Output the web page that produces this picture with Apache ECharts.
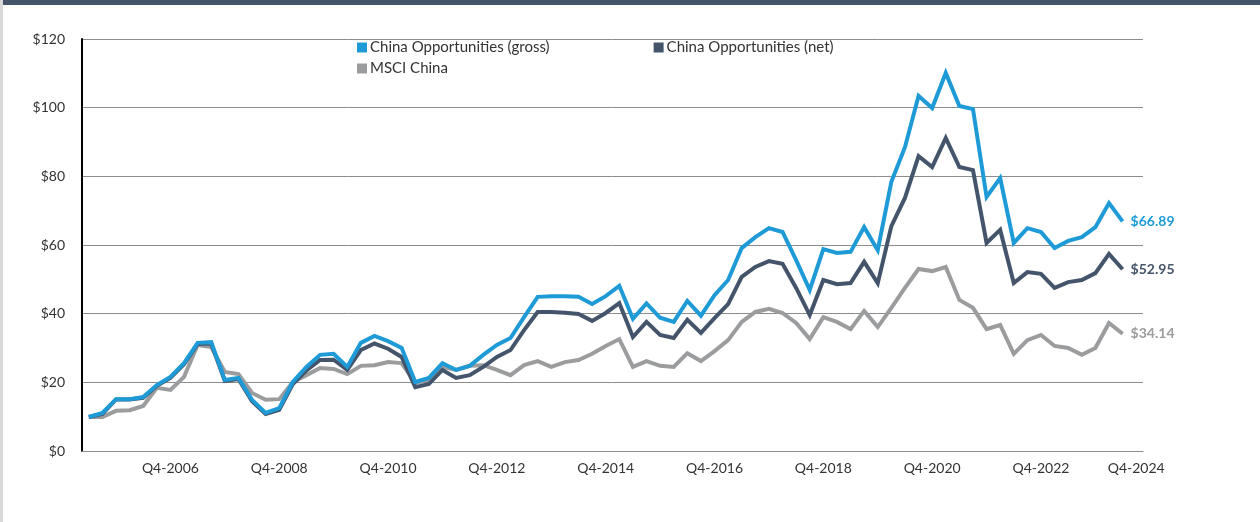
<!DOCTYPE html>
<html>
<head>
<meta charset="utf-8">
<script src="https://cdn.jsdelivr.net/npm/echarts@6/dist/echarts.min.js"></script>
<style>
  html, body { margin: 0; padding: 0; background: #fff; }
  #chart { width: 1260px; height: 522px; }
</style>
</head>
<body>
<div id="chart"></div>
<script>
// quarterly growth of $10
var gross = [9.9, 11.1, 15.1, 15.1, 15.7, 19.2, 21.6, 25.6, 31.5, 31.7,
  20.7, 21.3, 14.9, 11.1, 12.5, 20.1, 24.5, 28.0, 28.3, 24.5,
  31.5, 33.5, 32.0, 30.0, 20.1, 21.3, 25.6, 23.6, 24.8, 28.0,
  30.9, 32.9, 39.0, 44.9, 45.1, 45.1, 44.9, 42.8, 45.1, 48.1,
  38.5, 43.0, 38.8, 37.6, 43.7, 39.4, 45.4, 49.8, 59.1, 62.3,
  64.9, 63.8, 55.6, 46.9, 58.8, 57.7, 58.0, 65.2, 58.5, 78.4,
  88.5, 103.4, 99.9, 110.1, 100.5, 99.6, 74.0, 79.5, 60.6, 64.9,
  63.8, 59.1, 61.2, 62.3, 65.2, 72.2, 66.89];

var net = [9.9, 10.8, 15.0, 15.0, 15.5, 19.0, 21.3, 25.3, 31.2, 31.3,
  20.4, 21.0, 14.5, 10.8, 12.0, 19.5, 23.5, 26.5, 26.6, 23.6,
  29.4, 31.3, 29.8, 27.4, 18.6, 19.5, 23.6, 21.3, 22.1, 24.5,
  27.4, 29.4, 35.2, 40.5, 40.5, 40.3, 39.9, 37.9, 40.2, 43.1,
  33.2, 37.6, 33.8, 32.9, 38.2, 34.4, 38.7, 42.8, 50.7, 53.6,
  55.3, 54.5, 47.5, 39.6, 49.8, 48.6, 48.9, 55.1, 48.9, 65.5,
  73.7, 85.9, 82.7, 91.2, 82.7, 81.8, 60.6, 64.4, 48.9, 52.1,
  51.6, 47.5, 49.2, 49.8, 51.8, 57.4, 52.95];

var msci = [9.9, 9.9, 11.7, 11.9, 13.1, 18.4, 17.8, 21.6, 30.9, 30.3,
  23.0, 22.4, 16.9, 14.9, 15.1, 20.1, 22.1, 24.2, 23.9, 22.4,
  24.8, 25.0, 25.9, 25.6, 19.8, 20.7, 24.5, 23.6, 24.8, 25.0,
  23.6, 22.1, 25.0, 26.2, 24.5, 25.9, 26.5, 28.3, 30.6, 32.6,
  24.5, 26.2, 24.8, 24.5, 28.5, 26.2, 29.1, 32.3, 37.6, 40.5,
  41.4, 40.2, 37.3, 32.6, 39.0, 37.6, 35.5, 40.8, 36.1, 41.7,
  47.5, 53.0, 52.4, 53.6, 44.0, 41.7, 35.5, 36.7, 28.3, 32.3,
  33.8, 30.6, 30.0, 28.0, 30.0, 37.3, 34.14];

// category slots on the x axis and the ones that carry a label
var slotCount = 78;
var tickLabels = {
  6: 'Q4-2006', 14: 'Q4-2008', 22: 'Q4-2010', 30: 'Q4-2012', 38: 'Q4-2014',
  46: 'Q4-2016', 54: 'Q4-2018', 62: 'Q4-2020', 70: 'Q4-2022', 77: 'Q4-2024'
};
var yTicks = [0, 20, 40, 60, 80, 100, 120];

var names = ['China Opportunities (gross)', 'China Opportunities (net)', 'MSCI China'];
var colors = ['#1e9bd7', '#44546a', '#9b9c9e'];

var slots = [];
for (var i = 0; i < slotCount; i++) slots.push('s' + i);

var font = 'Lato, "Open Sans", sans-serif';

function makeSeries(idx, values) {
  return {
    name: names[idx],
    type: 'line',
    data: values,
    symbol: 'none',
    color: colors[idx],
    lineStyle: { width: 4, color: colors[idx], join: 'miter' },
    endLabel: {
      show: true,
      distance: 8,
      color: colors[idx],
      fontFamily: font,
      fontSize: 14,
      fontWeight: 'bold',
      formatter: function (p) { return '$' + p.value.toFixed(2); }
    },
    animation: false
  };
}

var chart = echarts.init(document.getElementById('chart'));
var option = {
  backgroundColor: '#ffffff',
  textStyle: { fontFamily: font },
  graphic: [
    { type: 'rect', shape: { x: 0, y: 0, width: 1260, height: 5 }, style: { fill: '#44546a' } },
    { type: 'rect', shape: { x: 0, y: 0, width: 3, height: 522 }, style: { fill: '#d9d9d9' } }
  ],
  legend: [
    {
      data: [names[0], names[1]],
      left: 352, top: 35,
      itemWidth: 10, itemHeight: 10, itemGap: 104,
      icon: 'rect',
      textStyle: { color: '#333', fontSize: 15, fontFamily: font, padding: [0, 0, 0, -2] }
    },
    {
      data: [names[2]],
      left: 352, top: 56,
      itemWidth: 10, itemHeight: 10,
      icon: 'rect',
      textStyle: { color: '#333', fontSize: 15, fontFamily: font, padding: [0, 0, 0, -2] }
    }
  ],
  grid: { left: 82, right: 117, top: 39, bottom: 71 },
  xAxis: {
    type: 'category',
    data: slots,
    boundaryGap: true,
    axisLine: { show: true, lineStyle: { color: '#8c8c8c', width: 1 } },
    axisTick: { show: false },
    axisLabel: {
      interval: function (i) { return tickLabels[i] !== undefined; },
      formatter: function (v, i) { return tickLabels[i] || ''; },
      color: '#333', fontSize: 14, margin: 10, fontFamily: font
    },
    splitLine: { show: false }
  },
  yAxis: {
    type: 'value',
    min: yTicks[0], max: yTicks[yTicks.length - 1], interval: 20,
    axisLine: { show: true, lineStyle: { color: '#000', width: 2 } },
    axisTick: { show: false },
    axisLabel: {
      color: '#333', fontSize: 14, margin: 17, fontFamily: font,
      formatter: function (v) { return '$' + v; }
    },
    splitLine: { show: true, lineStyle: { color: '#8c8c8c', width: 1 } }
  },
  series: [
    makeSeries(2, msci),
    makeSeries(1, net),
    makeSeries(0, gross)
  ]
};
chart.setOption(option);
</script>
</body>
</html>
